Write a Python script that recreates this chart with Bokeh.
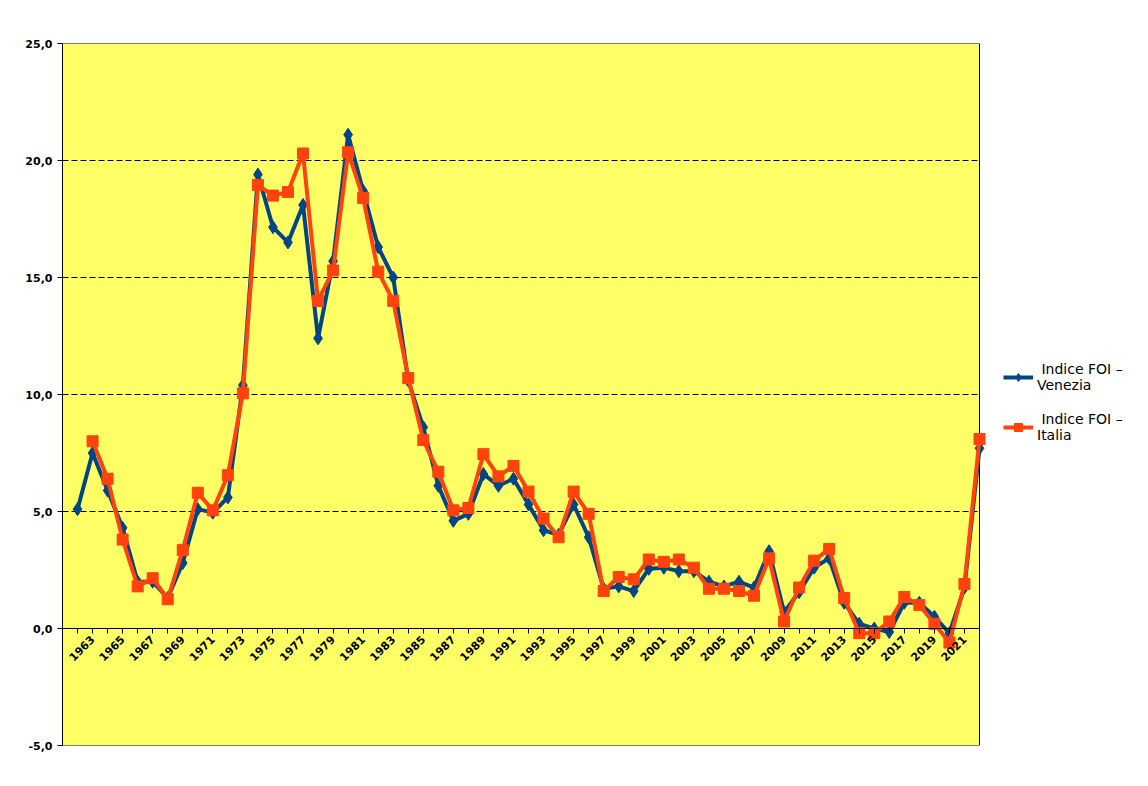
import math
from bokeh.plotting import figure
from bokeh.models import (Range1d, FixedTicker, CustomJSTickFormatter, Legend,
                          LegendItem, ColumnDataSource)
from bokeh.embed import file_html
from bokeh.resources import INLINE

years_venezia = list(range(1962, 2023))
foi_venezia = [5.1, 7.5, 5.9, 4.3, 2.0, 2.0, 1.3, 2.8, 5.1, 4.95,
               5.6, 10.4, 19.4, 17.15, 16.5, 18.1, 12.4, 15.7, 21.1, 18.7,
               16.3, 15.0, 10.6, 8.6, 6.1, 4.6, 4.9, 6.6, 6.1, 6.4,
               5.3, 4.2, 4.0, 5.3, 3.9, 1.7, 1.8, 1.6, 2.55, 2.6,
               2.45, 2.45, 2.0, 1.8, 2.0, 1.75, 3.3, 0.7, 1.55, 2.6,
               3.0, 1.1, 0.2, 0.0, -0.15, 1.1, 1.1, 0.5, -0.2, 1.75,
               7.7]
years_italia = list(range(1963, 2023))
foi_italia = [8.0, 6.4, 3.8, 1.8, 2.15, 1.25, 3.35, 5.8, 5.05,
              6.55, 10.05, 18.95, 18.5, 18.65, 20.3, 14.0, 15.3, 20.35, 18.4,
              15.25, 14.0, 10.7, 8.05, 6.7, 5.05, 5.15, 7.45, 6.5, 6.95,
              5.85, 4.7, 3.9, 5.85, 4.9, 1.6, 2.2, 2.1, 2.95, 2.85,
              2.95, 2.6, 1.7, 1.7, 1.6, 1.4, 3.0, 0.3, 1.75, 2.9,
              3.4, 1.3, -0.2, -0.2, 0.3, 1.35, 1.0, 0.2, -0.6, 1.9,
              8.1]
y_ticks = [-5, 0, 5, 10, 15, 20, 25]
grid_values = [5, 10, 15, 20]
label_venezia = " Indice FOI \u2013\nVenezia"
label_italia = " Indice FOI \u2013\nItalia"

BLUE = "#004586"
ORANGE = "#ff420e"
YELLOW = "#ffff66"
FONT = "DejaVu Sans"

# layout in pixels
W, H = 1132, 770
LEFT, TOP, BOTTOM, RIGHT = 62, 43, 25, 2
AREA_W = 917  # width of the yellow chart area
X0, X1 = 1961, 2022   # yellow chart area spans these years
Y0, Y1 = -5, 25
frame_w = W - LEFT - RIGHT
x_end = X0 + (X1 - X0) * frame_w / AREA_W

p = figure(width=W, height=H, output_backend="svg", toolbar_location=None,
           x_range=Range1d(X0, x_end), y_range=Range1d(Y0, Y1),
           min_border_left=LEFT, min_border_top=TOP, min_border_bottom=BOTTOM,
           min_border_right=RIGHT)
p.background_fill_color = "white"
p.border_fill_color = "white"
p.outline_line_color = None

# yellow chart area with black border
p.quad(left=[X0], right=[X1], bottom=[Y0], top=[Y1], fill_color=YELLOW,
       line_color="black", line_width=1)
# dashed horizontal grid lines limited to the chart area
p.segment(x0=[X0] * len(grid_values), x1=[X1] * len(grid_values),
          y0=grid_values, y1=grid_values, line_color="black",
          line_dash="6 3", line_width=1)

# x axis at y=0
p.xaxis.fixed_location = 0
p.xaxis.bounds = (X0, X1)
p.xaxis.ticker = FixedTicker(ticks=years_venezia)
p.xaxis.formatter = CustomJSTickFormatter(code="return (tick % 2 == 1) ? String(tick) : '';")
p.xaxis.major_label_orientation = math.pi / 4
p.xaxis.major_label_text_font = FONT
p.xaxis.major_label_text_font_style = "bold"
p.xaxis.major_label_text_font_size = "11px"
p.xaxis.major_label_text_color = "black"
p.xaxis.major_tick_out = 5
p.xaxis.major_tick_in = 0
p.xaxis.minor_tick_line_color = None
p.xaxis.axis_line_color = "black"
p.xaxis.major_tick_line_color = "black"
p.xaxis.major_label_standoff = 4

p.yaxis.ticker = FixedTicker(ticks=y_ticks)
p.yaxis.formatter = CustomJSTickFormatter(code="return tick.toFixed(1).replace('.', ',');")
p.yaxis.major_label_text_font = FONT
p.yaxis.major_label_text_font_style = "bold"
p.yaxis.major_label_text_font_size = "11px"
p.yaxis.major_label_text_color = "black"
p.yaxis.major_tick_out = 5
p.yaxis.major_tick_in = 0
p.yaxis.minor_tick_line_color = None
p.yaxis.axis_line_color = "black"
p.yaxis.major_label_standoff = 5

p.xgrid.grid_line_color = None
p.ygrid.grid_line_color = None

src_v = ColumnDataSource(dict(x=years_venezia, y=foi_venezia))
src_i = ColumnDataSource(dict(x=years_italia, y=foi_italia))

lv = p.line("x", "y", source=src_v, line_color=BLUE, line_width=4)
mv = p.scatter("x", "y", source=src_v, marker="diamond", size=13,
               fill_color=BLUE, line_color=BLUE)
li = p.line("x", "y", source=src_i, line_color=ORANGE, line_width=4)
mi = p.scatter("x", "y", source=src_i, marker="square", size=11,
               fill_color=ORANGE, line_color=ORANGE)

legend = Legend(items=[LegendItem(label=label_venezia, renderers=[lv, mv]),
                       LegendItem(label=label_italia, renderers=[li, mi])],
                location=(AREA_W + 24, 302))
legend.border_line_color = None
legend.background_fill_alpha = 0
legend.label_text_font = FONT
legend.label_text_font_size = "14px"
legend.label_text_color = "black"
legend.glyph_width = 30
legend.label_standoff = 4
legend.spacing = 18
legend.padding = 0
legend.margin = 0
p.add_layout(legend, "center")

open("out.html", "w").write(file_html(p, INLINE))
